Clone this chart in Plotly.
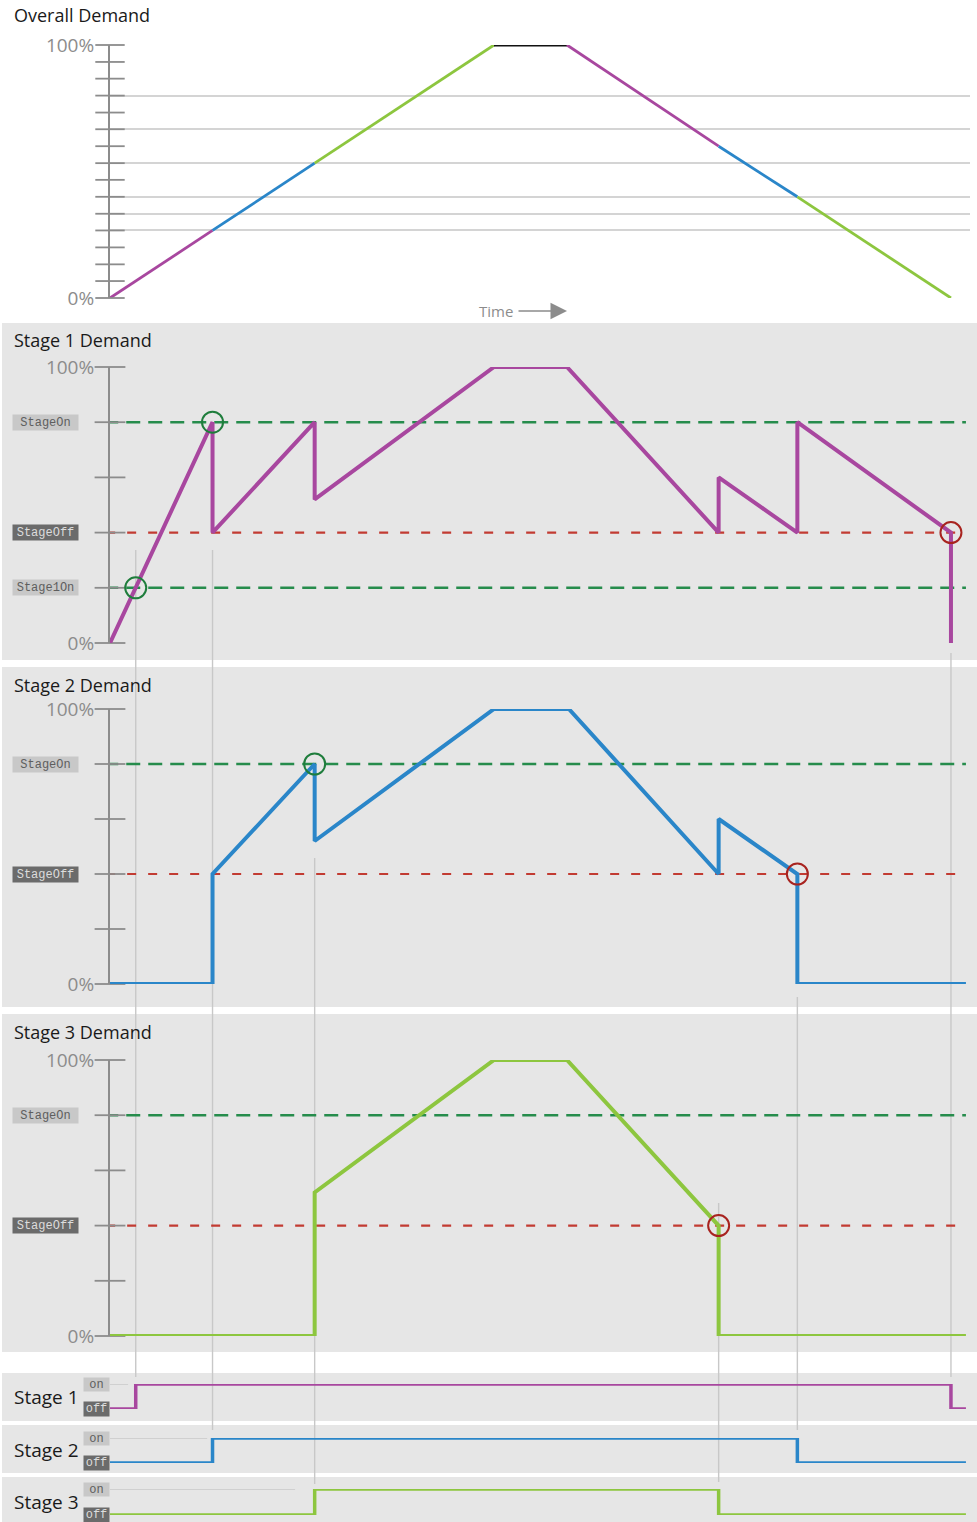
import plotly.graph_objects as go

# Tamaño del lienzo (px)
W, H = 977, 1522

PURPLE = '#a8479f'
BLUE = '#2a86c9'
GREEN = '#8dc63f'
DGREEN = '#268c4c'
RED = '#c23b32'
GREY = '#8c8c8c'
LIGHT = '#c8c8c8'
PANEL = '#e6e6e6'

# ---- datos (tiempo en unidades arbitrarias, demanda en %) ----
overall_t = [0, 26.7, 53.3, 100, 119, 158.5, 179, 219]
overall_pct = [0, 26.7, 53.3, 100, 100, 60, 40, 0]
overall_seg_colors = [PURPLE, BLUE, GREEN, '#111111', PURPLE, BLUE, GREEN]
overall_grid = [0, 26.7, 33.3, 40, 53.3, 66.7, 80, 100]
overall_ticks = [0, 6.7, 13.3, 20, 26.7, 33.3, 40, 46.7, 53.3, 60, 66.7, 73.3, 80, 86.7, 93.3, 100]

stage1_t = [0, 26.7, 26.7, 53.3, 53.3, 100, 119, 158.5, 158.5, 179, 179, 219, 219]
stage1_pct = [0, 80, 40, 80, 52, 100, 100, 40, 60, 40, 80, 40, 0]
stage2_t = [0, 26.7, 26.7, 53.3, 53.3, 100, 119.5, 158.5, 158.5, 179, 179, 222.9]
stage2_pct = [0, 0, 40, 80, 52, 100, 100, 40, 60, 40, 0, 0]
stage3_t = [0, 53.3, 53.3, 100, 119, 158.5, 158.5, 222.9]
stage3_pct = [0, 0, 52, 100, 100, 40, 0, 0]
stage_ticks = [0, 20, 40, 60, 80, 100]

stage_on = 80
stage_off = 40
stage1_on = 20
t_end = 222.9

# cruces de umbral (tiempo, %)
on_hits = [[(6.7, 20), (26.7, 80)], [(53.3, 80)], []]
off_hits = [[(219, 40)], [(179, 40)], [(158.5, 40)]]

# estado on/off de cada etapa
status_t = [[0, 6.7, 219, 222.9], [0, 26.7, 179, 222.9], [0, 53.3, 158.5, 222.9]]
status_v = [[0, 1, 0, 0], [0, 1, 0, 0], [0, 1, 0, 0]]
status_guide_end = [4.7, 25.3, 48.2]

# instantes de conmutación (líneas verticales grises) y su extensión vertical en px
switch_t = [6.7, 26.7, 53.3, 158.5, 179, 219]
switch_span = [(550, 1377), (550, 1430), (858, 1484), (1203, 1482), (997, 1430), (653, 1377)]


def py(y):
    return 1 - y / H


X0, X1 = 110, 970
PX_PER_T = 3.84
xrange_ = [0, (X1 - X0) / PX_PER_T]

fig = go.Figure()

# ---- Demanda total ----
for i, c in enumerate(overall_seg_colors):
    fig.add_trace(go.Scatter(x=overall_t[i:i + 2], y=overall_pct[i:i + 2], mode='lines',
                             line=dict(color=c, width=2.8), cliponaxis=False,
                             xaxis='x', yaxis='y', hoverinfo='skip'))
fig.add_trace(go.Scatter(x=[0] * len(overall_ticks), y=overall_ticks, mode='markers',
                         marker=dict(symbol='line-ew', size=21, line=dict(color=GREY, width=1.8)),
                         cliponaxis=False, xaxis='x', yaxis='y', hoverinfo='skip'))

# ---- Demanda por etapa ----
demand = [(stage1_t, stage1_pct, PURPLE), (stage2_t, stage2_pct, BLUE), (stage3_t, stage3_pct, GREEN)]
for k, (tt, vv, col) in enumerate(demand):
    ax = str(k + 2)
    xa, ya = 'x' + ax, 'y' + ax
    fig.add_trace(go.Scatter(x=[-1, t_end], y=[stage_off, stage_off], mode='lines',
                             line=dict(color=RED, width=2.2, dash='9px,12px'),
                             cliponaxis=False, xaxis=xa, yaxis=ya, hoverinfo='skip'))
    levels = [stage_on] + ([stage1_on] if k == 0 else [])
    for lv in levels:
        fig.add_trace(go.Scatter(x=[-1.5, t_end], y=[lv, lv], mode='lines',
                                 line=dict(color=DGREEN, width=2.4, dash='14px,8px'),
                                 cliponaxis=False, xaxis=xa, yaxis=ya, hoverinfo='skip'))
    fig.add_trace(go.Scatter(x=[0] * len(stage_ticks), y=stage_ticks, mode='markers',
                             marker=dict(symbol='line-ew', size=22, line=dict(color=GREY, width=1.8)),
                             cliponaxis=False, xaxis=xa, yaxis=ya, hoverinfo='skip'))
    fig.add_trace(go.Scatter(x=tt, y=vv, mode='lines', line=dict(color=col, width=4),
                             cliponaxis=False, xaxis=xa, yaxis=ya, hoverinfo='skip'))
    for hits, hc in ((on_hits[k], '#1f7d3c'), (off_hits[k], '#a8231f')):
        if hits:
            fig.add_trace(go.Scatter(x=[h[0] for h in hits], y=[h[1] for h in hits], mode='markers',
                                     marker=dict(symbol='circle-open', size=21, color=hc,
                                                 line=dict(color=hc, width=2)),
                                     cliponaxis=False, xaxis=xa, yaxis=ya, hoverinfo='skip'))

# ---- Estado on/off ----
for k in range(3):
    ax = str(k + 5)
    xa, ya = 'x' + ax, 'y' + ax
    col = demand[k][2]
    fig.add_trace(go.Scatter(x=[0, status_guide_end[k]], y=[1, 1], mode='lines',
                             line=dict(color=LIGHT, width=1.5), cliponaxis=False,
                             xaxis=xa, yaxis=ya, hoverinfo='skip'))
    fig.add_trace(go.Scatter(x=status_t[k], y=status_v[k], mode='lines', line_shape='hv',
                             line=dict(color=col, width=3.5), cliponaxis=False,
                             xaxis=xa, yaxis=ya, hoverinfo='skip'))

# ---- ejes ----
layout_axes = {}
tickfont = dict(family='Open Sans', size=19, color=GREY)
panels = [('', 45, 298, overall_grid), ('2', 367, 643, None), ('3', 709, 984, None), ('4', 1060, 1336, None)]
for ax, top, bot, grid in panels:
    layout_axes['xaxis' + ax] = dict(domain=[X0 / W, X1 / W], range=xrange_, visible=False,
                                     anchor='y' + (ax or ''), fixedrange=True, automargin=False)
    if grid:
        tv = grid
        tt = ['0%'] + [''] * (len(grid) - 2) + ['100%']
        yax = dict(tickvals=tv, ticktext=tt, showgrid=True, gridcolor='#d4d4d4', gridwidth=1.5)
    else:
        yax = dict(tickvals=[0, 100], ticktext=['0%', '100%'], showgrid=False,
                   minor=dict(tickvals=[100], showgrid=True, gridcolor=LIGHT, gridwidth=1.5, ticks=''))
    yax.update(domain=[py(bot), py(top)], range=[0, 100], anchor='x' + (ax or ''),
               showline=True, linecolor=GREY, linewidth=2, ticks='', zeroline=False,
               tickfont=tickfont, ticklabelstandoff=10, fixedrange=True, automargin=False)
    layout_axes['yaxis' + ax] = yax

for ax, on_y, off_y in [('5', 1384, 1409), ('6', 1438, 1463), ('7', 1489, 1515)]:
    layout_axes['xaxis' + ax] = dict(domain=[X0 / W, X1 / W], range=xrange_, visible=False,
                                     anchor='y' + ax, fixedrange=True, automargin=False)
    layout_axes['yaxis' + ax] = dict(domain=[py(off_y), py(on_y)], range=[0, 1], visible=False,
                                     anchor='x' + ax, fixedrange=True, automargin=False)

# ---- fondos de panel y líneas verticales ----
shapes = []
for top, bot in [(323, 660), (667, 1007), (1014, 1352), (1373, 1421), (1425, 1473), (1477, 1522)]:
    shapes.append(dict(type='rect', xref='paper', yref='paper', x0=2 / W, x1=1,
                       y0=py(bot), y1=py(top), fillcolor=PANEL, line=dict(width=0), layer='below'))
for t, (top, bot) in zip(switch_t, switch_span):
    shapes.append(dict(type='line', xref='x2', yref='paper', x0=t, x1=t, y0=py(bot), y1=py(top),
                       line=dict(color=LIGHT, width=1.4), layer='below'))

# ---- textos ----
ann = []
title_font = dict(family='Open Sans', size=18, color='#1a1a1a')
for txt, yc in [('Overall Demand', 15), ('Stage 1 Demand', 340), ('Stage 2 Demand', 685),
                ('Stage 3 Demand', 1032)]:
    ann.append(dict(text=txt, xref='paper', yref='paper', x=12 / W, y=py(yc), xanchor='left',
                    yanchor='middle', showarrow=False, font=title_font))
for k, yc in enumerate([1397, 1450, 1502]):
    ann.append(dict(text='Stage %d' % (k + 1), xref='paper', yref='paper', x=12 / W, y=py(yc),
                    xanchor='left', yanchor='middle', showarrow=False,
                    font=dict(family='Open Sans', size=19, color='#1a1a1a')))

mono = 'Liberation Mono'


def tag(text, x, xref_y, yv, dark, width, height):
    return dict(text=text, xref='paper', yref=xref_y, x=x, y=yv, xanchor='left', yanchor='middle',
                showarrow=False, width=width, height=height, align='center', borderpad=1,
                bgcolor='#6b6b6b' if dark else LIGHT,
                font=dict(family=mono, size=12, color='#dcdcdc' if dark else '#5e5e5e'))


for k in range(3):
    ya = 'y' + str(k + 2)
    ann.append(tag('StageOn', 12 / W, ya, stage_on, False, 63, 13))
    ann.append(tag('StageOff', 12 / W, ya, stage_off, True, 63, 13))
    if k == 0:
        ann.append(tag('Stage1On', 12 / W, ya, stage1_on, False, 63, 13))
    ys = 'y' + str(k + 5)
    ann.append(tag('on', 83 / W, ys, 1, False, 23, 11))
    ann.append(tag('off', 83 / W, ys, 0, True, 23, 12))

ann.append(dict(text='Time', xref='paper', yref='paper', x=477 / W, y=py(311), xanchor='left',
                yanchor='middle', showarrow=False, font=dict(family='Open Sans', size=15, color=GREY)))
ann.append(dict(text='', xref='paper', yref='paper', x=567 / W, y=py(311), ax=-50, ay=0,
                showarrow=True, arrowhead=2, arrowsize=2.2, arrowwidth=1.5, arrowcolor=GREY))

fig.update_layout(width=W, height=H, margin=dict(l=0, r=0, t=0, b=0, pad=0, autoexpand=False),
                  showlegend=False, paper_bgcolor='white', plot_bgcolor='rgba(0,0,0,0)',
                  shapes=shapes, annotations=ann, **layout_axes)

# sin margen en el body para que la figura llene la ventana exacta
fig.write_html("out.html", config={'displayModeBar': False},
               post_script="document.body.style.margin='0';")
